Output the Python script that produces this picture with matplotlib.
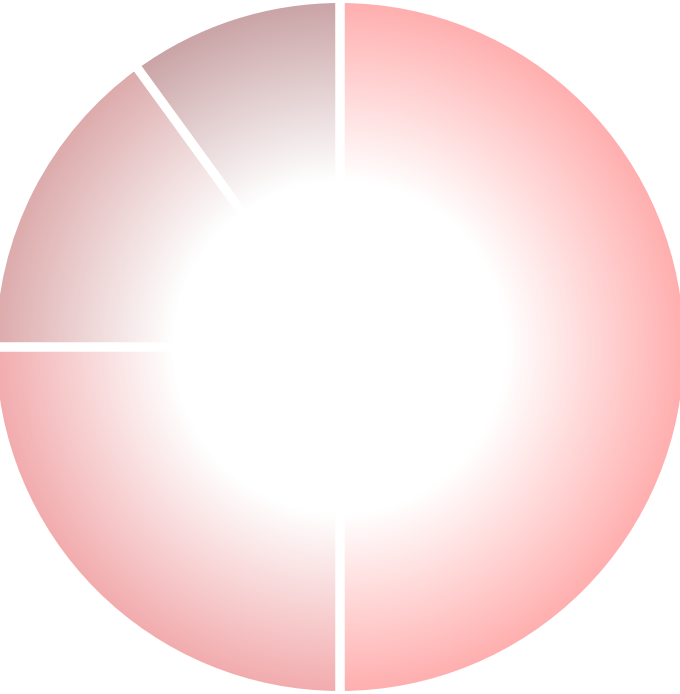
import matplotlib
matplotlib.use("Agg")
import matplotlib.pyplot as plt
import numpy as np
from matplotlib.colors import to_rgb

# ---------------------------------------------------------------------
# Data (clockwise from 12 o'clock)
# ---------------------------------------------------------------------

labels = ["A", "B", "C", "D"]
values = [50, 25, 15, 10]
edge_colors = ["#ffadad", "#f2aaac", "#dca9aa", "#c9a2a4"]

# ---------------------------------------------------------------------
# Figure
# ---------------------------------------------------------------------

W, H = 680, 694
CX, CY, R = 340.0, 347.0, 348.5

fig = plt.figure(figsize=(W / 100, H / 100), dpi=100)
ax = fig.add_axes([0, 0, 1, 1])

wedges, _ = ax.pie(
    values,
    labels=None,
    startangle=90,
    counterclock=False,
    radius=R,
    center=(CX, CY),
    wedgeprops=dict(facecolor="none", edgecolor="white", linewidth=6.5),
)

# radial gradient: white in the middle, slice colour at the rim
xs = np.linspace(0, W, W)
ys = np.linspace(0, H, H)
gx, gy = np.meshgrid(xs, ys)
t = np.hypot(gx - CX, gy - CY) / R
f = np.clip((t - 0.48) / 0.52, 0, 1)[..., None]

for wedge, col in zip(wedges, edge_colors):
    rgb = np.array(to_rgb(col))
    img = 1 - f * (1 - rgb)
    im = ax.imshow(img, extent=(0, W, 0, H), origin="lower", zorder=0,
                   interpolation="bilinear")
    im.set_clip_path(wedge)

ax.set_xlim(0, W)
ax.set_ylim(0, H)
ax.set_aspect("auto")
ax.axis("off")

fig.savefig("out.png", dpi=100)
